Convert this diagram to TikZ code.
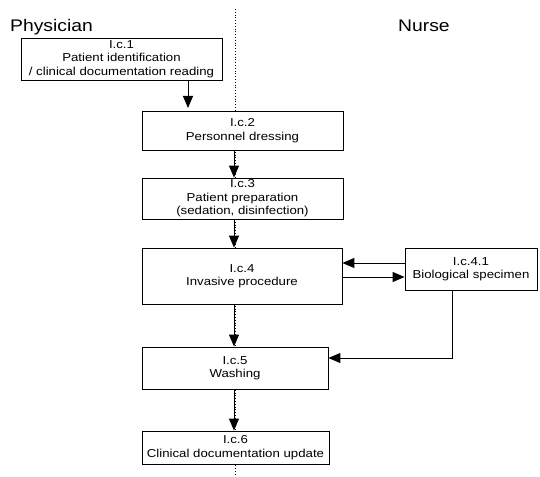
\documentclass[tikz,border=0pt]{standalone}
\usepackage{fontspec}
\setmainfont[FakeStretch=1.15]{Liberation Sans}
\usetikzlibrary{arrows.meta,shadows}
\begin{document}
\begin{tikzpicture}[x=1pt,y=-1pt,
  box/.style={draw=black, line width=0.8pt, fill=white, inner sep=0pt, align=center,
    font=\fontsize{11.5}{13.5}\selectfont,
    drop shadow={shadow xshift=1.3pt, shadow yshift=-1.3pt, fill=black!55, opacity=1}},
  flow/.style={line width=0.9pt, -{Triangle[length=12pt,width=10pt]}},
  lane/.style={font=\fontsize{16.8}{18}\selectfont, anchor=base west, inner sep=0pt}]
\useasboundingbox (0,0) rectangle (540,476);
\draw[dotted, line width=0.8pt] (235,9) -- (235,476);
\node[lane] (phys) at (10,32) {Physician};
\node[lane] (nurse) at (398,32) {Nurse};
\node[box, minimum width=201pt, minimum height=42pt] (b1) at (121.5,59) {I.c.1\\Patient identification\\/ clinical documentation reading};
\node[box, minimum width=201pt, minimum height=39pt] (b2) at (242.5,130.5) {I.c.2\\Personnel dressing};
\node[box, minimum width=201pt, minimum height=41pt] (b3) at (242.5,198.5) {I.c.3\\Patient preparation\\(sedation, disinfection)};
\node[box, minimum width=200pt, minimum height=56pt] (b4) at (242,276) {I.c.4\\Invasive procedure};
\node[box, minimum width=132pt, minimum height=42pt] (b41) at (471,269) {I.c.4.1\\Biological specimen};
\node[box, minimum width=186pt, minimum height=42pt] (b5) at (235,368) {I.c.5\\Washing};
\node[box, minimum width=187pt, minimum height=33pt] (b6) at (235.5,447.5) {I.c.6\\Clinical documentation update};
\coordinate (a1) at (188,80);
\coordinate (a1e) at (188,108);
\draw[flow] (a1) -- (a1e);
\draw[flow] (b2.south -| 234,0) -- (b3.north -| 234,0);
\draw[flow] (b3.south -| 234,0) -- (b4.north -| 234,0);
\draw[flow] (b4.south -| 234,0) -- (b5.north -| 234,0);
\draw[flow] (b5.south -| 234,0) -- (b6.north -| 234,0);
\draw[flow] (b41.west |- 0,263) -- (b4.east |- 0,263);
\draw[flow] (b4.east |- 0,277) -- (b41.west |- 0,277);
\coordinate (c1) at (452,358);
\draw[flow] (b41.south -| c1) -- (c1) -- (b5.east |- c1);
\end{tikzpicture}
\end{document}
